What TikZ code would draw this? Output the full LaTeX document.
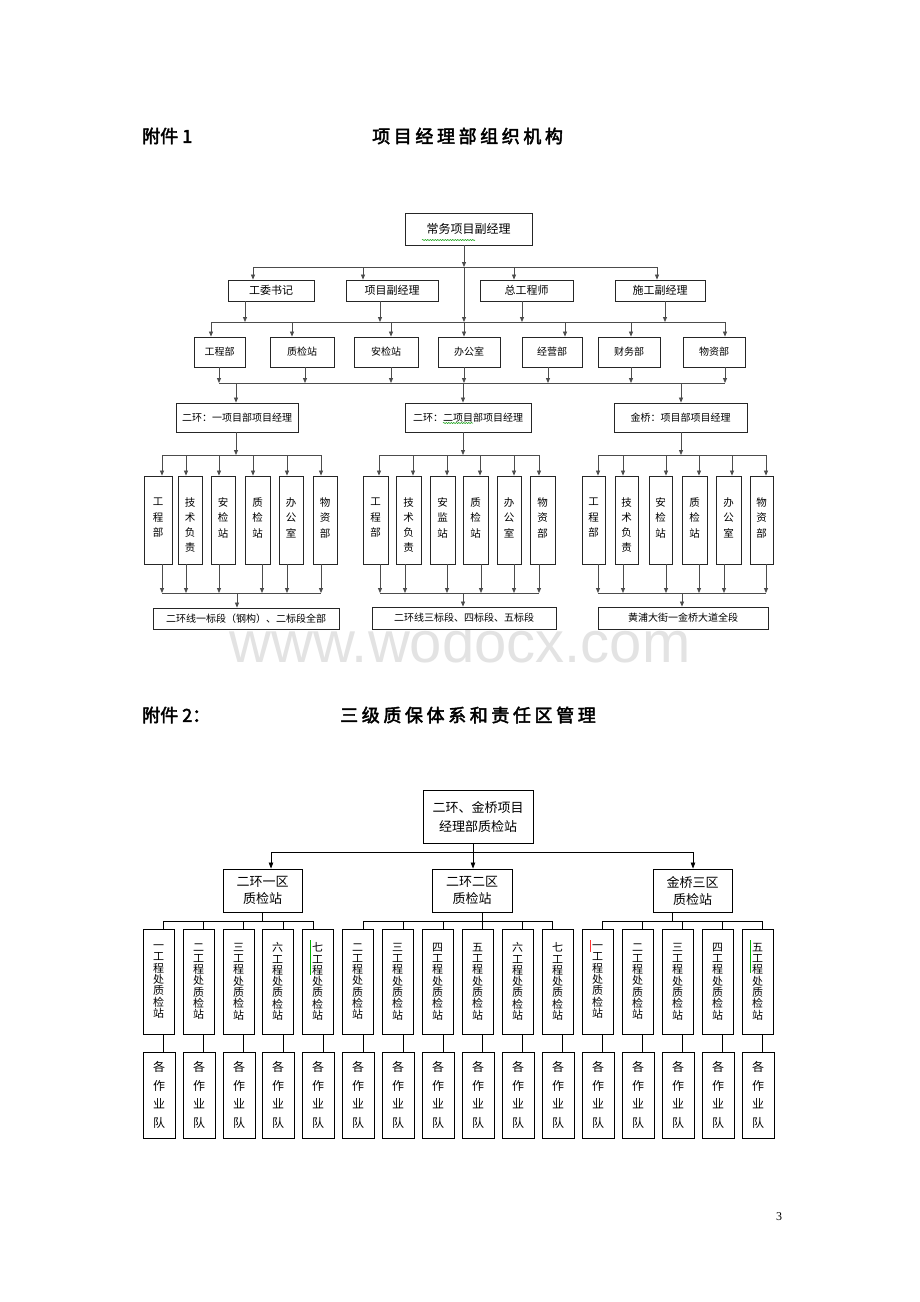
\documentclass[tikz,border=0pt]{standalone}
\usepackage{fontspec}
\setmainfont{Liberation Serif}
\newfontfamily\cjk{Noto Sans CJK SC}[AutoFakeBold=2.5]
\newfontfamily\wmfont{Liberation Sans}
\usetikzlibrary{arrows.meta,decorations.pathmorphing}
\lineskiplimit=-100pt
\newcommand\Bx[7][]{\node[box,minimum width={((#5)-(#3))*1pt},minimum height={((#6)-(#4))*1pt},#1] (#2) at ({((#3)+(#5))/2},{((#4)+(#6))/2}) {#7};}
\newcommand\Rf[4]{\Bx[label={[v5]center:{#4}}]{#1}{#2}{476}{#3}{564}{}}
\newcommand\Up[3]{\Bx[bx2,fu]{#1}{#2}{929}{(#2)+31}{1034}{#3\\工\\程\\处\\质\\检\\站}}
\newcommand\Lo[2]{\Bx[bx2,fl]{#1}{#2}{1052}{(#2)+32}{1138}{各\\作\\业\\队}}
\tikzset{
 box/.style={draw=black!85, line width=0.85pt, fill=white, inner sep=0pt, align=center, font={\cjk\fontsize{10}{12}\selectfont}},
 bx2/.style={draw=black, line width=0.9pt},
 f11/.style={font={\cjk\fontsize{11}{13}\selectfont}},
 f12/.style={font={\cjk\fontsize{12}{14}\selectfont}},
 f13/.style={font={\cjk\fontsize{13}{17}\selectfont}},
 fu/.style={font={\cjk\fontsize{11}{11.3}\selectfont}},
 fl/.style={font={\cjk\fontsize{12}{18.5}\selectfont}},
 ln/.style={draw=black!70, line width=0.8pt},
 arr/.style={ln, -{Triangle[length=5pt,width=4pt]}},
 ln2/.style={draw=black, line width=0.8pt},
 arr2/.style={ln2, -{Triangle[length=6pt,width=4.5pt]}},
 v5/.style={align=center, inner sep=0pt, yshift=-5pt, font={\cjk\fontsize{10.5}{15.3}\selectfont}},
 ttl/.style={inner sep=0pt, anchor=west, font={\cjk\bfseries\fontsize{18}{20}\selectfont}},
 wm/.style={inner sep=0pt, anchor=base, text=black!11, font={\wmfont\fontsize{58}{60}\selectfont}},
 spellmk/.style={line width=0.5pt},
}
\begin{document}
\begin{tikzpicture}[x=1pt,y=-1pt]
\path[use as bounding box, fill=white] (0,0) rectangle (920,1302);
% watermark
\node[wm] (wm) at (460,662) {www.wodocx.com};
% ---------- titles part 1
\node[ttl] (t1a) at (142,136) {附件 1};
\node[ttl] (t1b) at (372,136) {\addfontfeature{LetterSpace=20}项目经理部组织机构};
% ---------- part 1 boxes
\Bx[f12]{top}{405}{213}{532}{245}{常务项目副经理}
\Bx[f11]{r2a}{228}{280}{314}{301}{工委书记}
\Bx[f11]{r2b}{346}{280}{438}{301}{项目副经理}
\Bx[f11]{r2c}{480}{280}{573}{301}{总工程师}
\Bx[f11]{r2d}{615}{280}{705}{301}{施工副经理}
\Bx{r3a}{194}{337}{245}{367}{工程部}
\Bx{r3b}{270}{337}{334}{367}{质检站}
\Bx{r3c}{354}{337}{418}{367}{安检站}
\Bx{r3d}{438}{337}{500}{367}{办公室}
\Bx{r3e}{522}{337}{582}{367}{经营部}
\Bx{r3f}{598}{337}{660}{367}{财务部}
\Bx{r3g}{683}{337}{745}{367}{物资部}
\Bx{r4a}{176}{403}{298}{432}{二环：一项目部项目经理}
\Bx{r4b}{405}{403}{531}{432}{二环：二项目部项目经理}
\Bx{r4c}{614}{403}{747}{432}{金桥：项目部项目经理}
\Rf{a1}{144}{172}{工\\程\\部\\~}
\Rf{a2}{178}{202}{技\\术\\负\\责}
\Rf{a3}{211}{235}{安\\检\\站\\~}
\Rf{a4}{245}{270}{质\\检\\站\\~}
\Rf{a5}{279}{303}{办\\公\\室\\~}
\Rf{a6}{313}{337}{物\\资\\部\\~}
\Rf{b1}{363}{388}{工\\程\\部\\~}
\Rf{b2}{396}{421}{技\\术\\负\\责}
\Rf{b3}{430}{455}{安\\监\\站\\~}
\Rf{b4}{463}{488}{质\\检\\站\\~}
\Rf{b5}{497}{521}{办\\公\\室\\~}
\Rf{b6}{530}{555}{物\\资\\部\\~}
\Rf{c1}{582}{605}{工\\程\\部\\~}
\Rf{c2}{615}{638}{技\\术\\负\\责}
\Rf{c3}{649}{672}{安\\检\\站\\~}
\Rf{c4}{682}{707}{质\\检\\站\\~}
\Rf{c5}{716}{741}{办\\公\\室\\~}
\Rf{c6}{750}{773}{物\\资\\部\\~}
\Bx{bA}{153}{608}{339}{629}{二环线一标段（钢构）、二标段全部}
\Bx{bB}{372}{607}{556}{629}{二环线三标段、四标段、五标段}
\Bx{bC}{598}{607}{768}{629}{黄浦大街一金桥大道全段}
% ---------- part 1 connectors
\draw[arr] (464,0 |- top.south) -- (464,267);
\draw[arr] (464,267) -- (464,322);
\draw[arr] (464,322) -- (464,0 |- r3d.north);
\draw[ln] (253,267) -- (657,267);
\foreach \x/\n in {253/r2a,363/r2b,514/r2c,657/r2d} \draw[arr] (\x,267) -- (\x,0 |- \n.north);
\foreach \x/\n in {245/r2a,380/r2b,522/r2c,665/r2d} \draw[arr] (\x,0 |- \n.south) -- (\x,322);
\draw[ln] (211,322) -- (725,322);
\foreach \x/\n in {211/r3a,292/r3b,391/r3c,565/r3e,631/r3f,725/r3g} \draw[arr] (\x,322) -- (\x,0 |- \n.north);
\foreach \x/\n in {219/r3a,305/r3b,391/r3c,464/r3d,548/r3e,631/r3f,725/r3g} \draw[arr] (\x,0 |- \n.south) -- (\x,383);
\draw[ln] (219,383) -- (725,383);
\foreach \x/\n in {236/r4a,463/r4b,681/r4c} {
  \draw[arr] (\x,383) -- (\x,0 |- \n.north);
  \draw[arr] (\x,0 |- \n.south) -- (\x,455);
}
\draw[ln] (162,455) -- (321,455);
\draw[ln] (379,455) -- (539,455);
\draw[ln] (598,455) -- (766,455);
\foreach \x/\n in {162/a1,186/a2,219/a3,253/a4,287/a5,321/a6,379/b1,413/b2,447/b3,480/b4,514/b5,539/b6,598/c1,623/c2,666/c3,699/c4,732/c5,766/c6}
  \draw[arr] (\x,455) -- (\x,0 |- \n.north);
\foreach \x/\n in {162/a1,186/a2,219/a3,262/a4,287/a5,321/a6,380/b1,405/b2,447/b3,481/b4,514/b5,539/b6,598/c1,623/c2,666/c3,699/c4,724/c5,766/c6}
  \draw[arr] (\x,0 |- \n.south) -- (\x,593);
\draw[ln] (162,593) -- (321,593);
\draw[ln] (380,593) -- (539,593);
\draw[ln] (598,593) -- (766,593);
\draw[arr] (237,593) -- (237,0 |- bA.north);
\draw[arr] (463,593) -- (463,0 |- bB.north);
\draw[arr] (682,593) -- (682,0 |- bC.north);
% spell-check marks
\draw[green!60!black, spellmk, decorate, decoration={snake,amplitude=0.6pt,segment length=2.5pt}] (422,240) -- (475,240);
\draw[green!60!black, spellmk, decorate, decoration={snake,amplitude=0.6pt,segment length=2.5pt}] (443,423) -- (473,423);
% ---------- titles part 2
\node[ttl] (t2a) at (142,715) {附件 2：};
\node[ttl] (t2b) at (340,715) {\addfontfeature{LetterSpace=20}三级质保体系和责任区管理};
% ---------- part 2 boxes
\Bx[bx2,font={\cjk\fontsize{13}{19}\selectfont}]{T2}{423}{790}{533}{843}{二环、金桥项目\\经理部质检站}
\Bx[bx2,f13]{s1}{223}{869}{302}{912}{二环一区\\质检站}
\Bx[bx2,f13]{s2}{432}{869}{512}{912}{二环二区\\质检站}
\Bx[bx2,f13]{s3}{653}{869}{732}{912}{金桥三区\\质检站}
\Up{u1}{143}{一}  \Up{u2}{183}{二}  \Up{u3}{223}{三}  \Up{u4}{262}{六}  \Up{u5}{302}{七}
\Up{u6}{342}{二}  \Up{u7}{382}{三}  \Up{u8}{422}{四}  \Up{u9}{462}{五}  \Up{u10}{502}{六} \Up{u11}{542}{七}
\Up{u12}{582}{一} \Up{u13}{622}{二} \Up{u14}{662}{三} \Up{u15}{702}{四} \Up{u16}{742}{五}
\Lo{w1}{143}  \Lo{w2}{183}  \Lo{w3}{223}  \Lo{w4}{262}  \Lo{w5}{302}
\Lo{w6}{342}  \Lo{w7}{382}  \Lo{w8}{422}  \Lo{w9}{462}  \Lo{w10}{502} \Lo{w11}{542}
\Lo{w12}{582} \Lo{w13}{622} \Lo{w14}{662} \Lo{w15}{702} \Lo{w16}{742}
% ---------- part 2 connectors
\draw[arr2] (473,0 |- T2.south) -- (473,0 |- s2.north);
\draw[ln2] (271,852) -- (693,852);
\draw[arr2] (271,852) -- (271,0 |- s1.north);
\draw[arr2] (693,852) -- (693,0 |- s3.north);
\draw[ln2] (262,0 |- s1.south) -- (262,921);
\draw[ln2] (482,0 |- s2.south) -- (482,921);
\draw[ln2] (672,0 |- s3.south) -- (672,921);
\draw[ln2] (163,921) -- (313,921);
\draw[ln2] (363,921) -- (552,921);
\draw[ln2] (602,921) -- (762,921);
\foreach \x/\n in {163/u1,203/u2,243/u3,283/u4,313/u5,363/u6,403/u7,443/u8,482/u9,522/u10,552/u11,602/u12,642/u13,682/u14,722/u15,762/u16}
  \draw[ln2] (\x,921) -- (\x,0 |- \n.north);
\foreach \x/\i in {163/1,203/2,243/3,283/4,323/5,363/6,403/7,443/8,482/9,522/10,562/11,602/12,642/13,682/14,722/15,762/16}
  \draw[ln2] (\x,0 |- u\i.south) -- (\x,0 |- w\i.north);
% spell-check marks
\draw[green!70!black, spellmk] (310,940) -- (310,975);
\draw[green!70!black, spellmk] (750,940) -- (750,973);
\draw[red!80, spellmk] (590,940) -- (590,952);
% page number
\node[inner sep=0pt, font=\fontsize{12}{14}\selectfont] (pg) at (779,1217) {3};
\end{tikzpicture}
\end{document}
